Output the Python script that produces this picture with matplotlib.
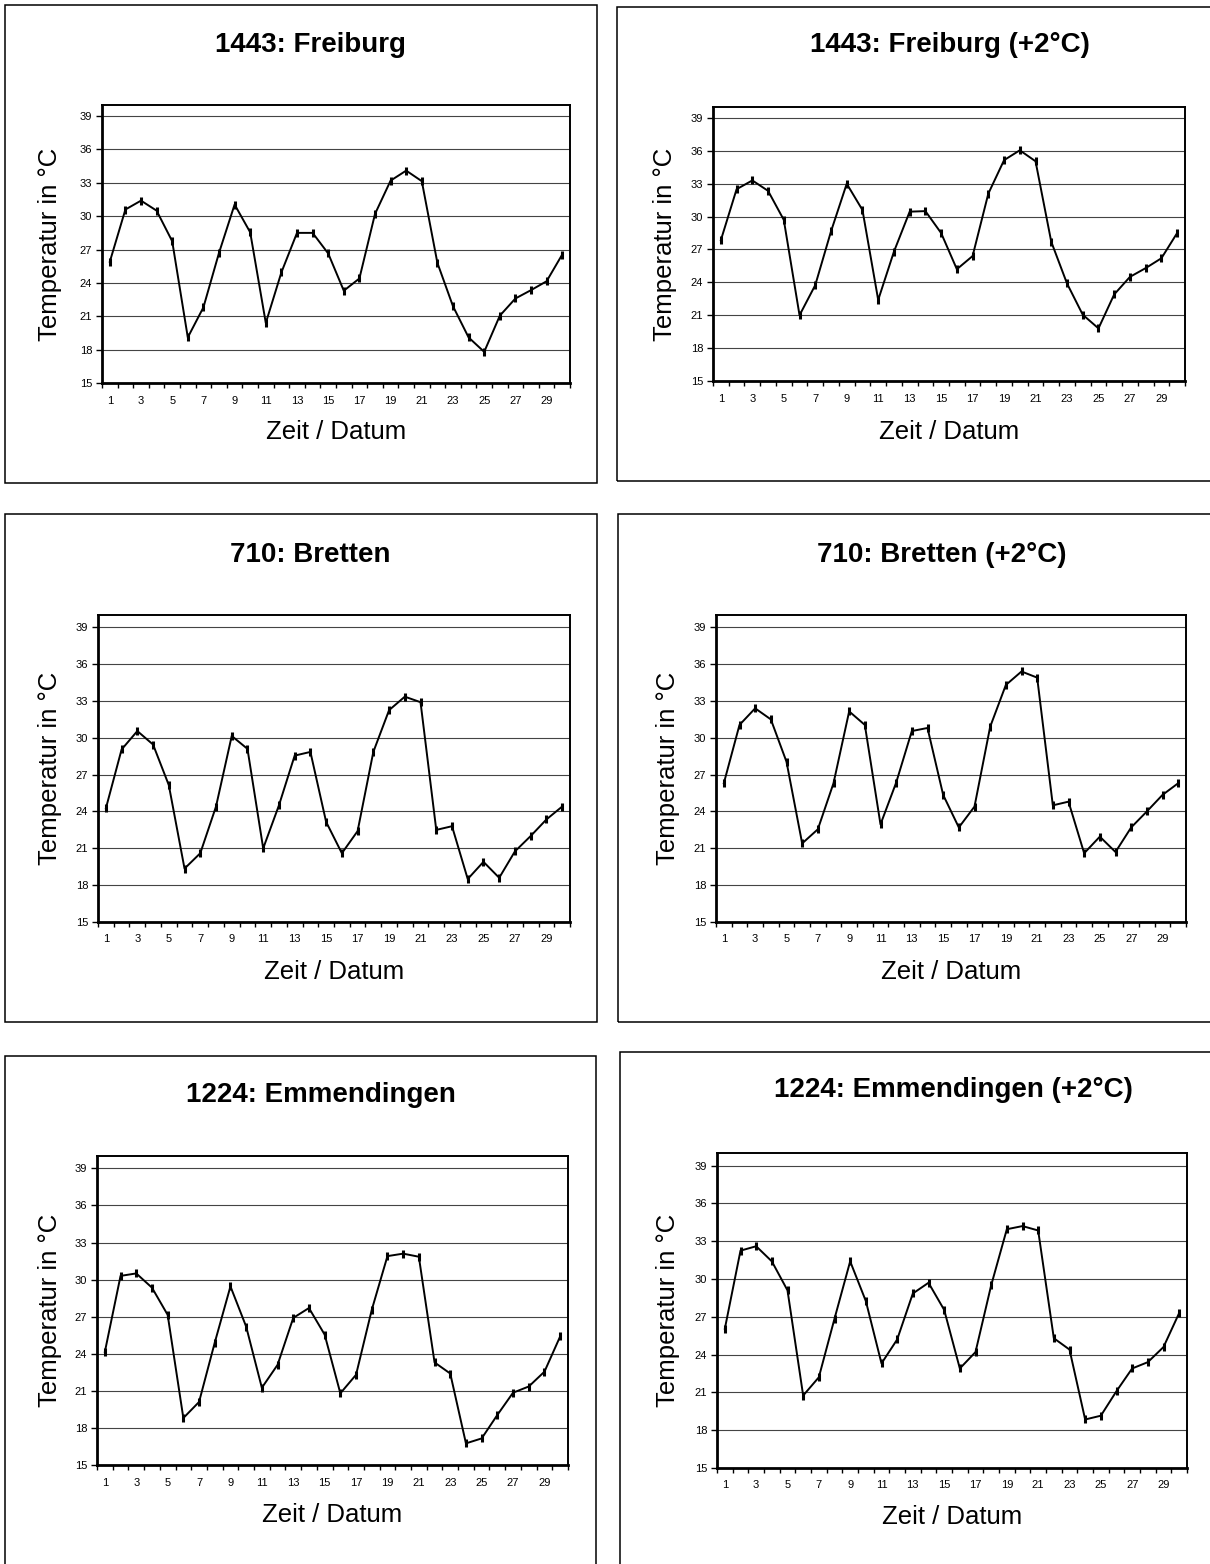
import numpy as np
import matplotlib.pyplot as plt
from matplotlib.patches import Rectangle
from matplotlib.ticker import FixedLocator, NullFormatter

plt.rcParams['font.family'] = ['Liberation Sans', 'DejaVu Sans']

# Daten: Tageshoechsttemperaturen (Tag 1..30)
tage = list(range(1, 31))

freiburg = [25.9, 30.6, 31.4, 30.5, 27.75, 19.1, 21.8, 26.7, 31.05, 28.55,
            20.4, 24.95, 28.5, 28.5, 26.65, 23.3, 24.4, 30.2, 33.2, 34.1,
            33.15, 25.8, 21.9, 19.1, 17.8, 21.05, 22.6, 23.35, 24.15, 26.55]
freiburg_2 = [27.85, 32.5, 33.3, 32.35, 29.7, 21.0, 23.75, 28.65, 33.0, 30.6,
              22.4, 26.8, 30.45, 30.5, 28.5, 25.2, 26.4, 32.1, 35.15, 36.05,
              35.05, 27.7, 23.9, 21.05, 19.8, 22.9, 24.5, 25.3, 26.2, 28.5]
bretten = [24.25, 29.05, 30.55, 29.45, 26.15, 19.35, 20.6, 24.4, 30.15, 29.1,
           21.0, 24.5, 28.55, 28.85, 23.15, 20.6, 22.4, 28.85, 32.25, 33.35,
           32.9, 22.5, 22.8, 18.5, 19.9, 18.6, 20.75, 22.0, 23.35, 24.4]
bretten_2 = [26.3, 31.05, 32.4, 31.5, 28.05, 21.4, 22.55, 26.3, 32.15, 31.05,
             22.95, 26.35, 30.55, 30.8, 25.35, 22.7, 24.4, 30.9, 34.3, 35.4,
             34.9, 24.5, 24.8, 20.6, 21.95, 20.7, 22.7, 24.0, 25.35, 26.3]
emmendingen = [24.15, 30.3, 30.5, 29.35, 27.15, 18.8, 20.1, 24.9, 29.45, 26.2,
               21.25, 23.1, 26.9, 27.7, 25.55, 20.8, 22.3, 27.55, 31.9, 32.1,
               31.85, 23.3, 22.4, 16.75, 17.15, 19.05, 20.85, 21.35, 22.55, 25.4]
emmendingen_2 = [26.05, 32.25, 32.6, 31.4, 29.1, 20.75, 22.2, 26.85, 31.4, 28.25,
                 23.3, 25.2, 28.85, 29.7, 27.55, 22.9, 24.2, 29.5, 33.95, 34.2,
                 33.85, 25.3, 24.4, 18.85, 19.15, 21.1, 22.9, 23.4, 24.6, 27.3]

titel = ['1443: Freiburg', '1443: Freiburg (+2°C)',
         '710: Bretten', '710: Bretten (+2°C)',
         '1224: Emmendingen', '1224: Emmendingen (+2°C)']
reihen = [freiburg, freiburg_2, bretten, bretten_2, emmendingen, emmendingen_2]

y_ticks = [15, 18, 21, 24, 27, 30, 33, 36, 39]
x_labels = [1, 3, 5, 7, 9, 11, 13, 15, 17, 19, 21, 23, 25, 27, 29]

# Layout in Pixeln: Achsen (l, o, r, u), Rahmen (l, o, r, u), Titel (x, y)
W, H = 1210, 1564
achsen = [(102, 105, 570, 383), (713, 107, 1185, 381),
          (98, 615, 570, 922), (716, 615, 1186, 922),
          (97, 1156, 568, 1465), (717, 1153, 1187, 1468)]
rahmen = [(5, 5, 597, 483), (617, 7, 1215, 481),
          (5, 514, 597, 1022), (618, 514, 1215, 1022),
          (5, 1056, 596, 1575), (620, 1052, 1215, 1575)]
titel_pos = [(310, 45), (950, 45), (310, 555), (942, 555), (321, 1095), (953, 1090)]
ylabel_x = [50, 665, 50, 668, 50, 668]
xlabel_y = [432, 432, 972, 972, 1515, 1517]

fig = plt.figure(figsize=(W / 100, H / 100), dpi=100)
fig.patch.set_facecolor('white')

for i in range(6):
    l, o, r, u = rahmen[i]
    fig.patches.append(Rectangle((l / W, 1 - u / H), (r - l) / W, (u - o) / H,
                                 transform=fig.transFigure, fill=False,
                                 edgecolor='black', linewidth=1.1))

    l, o, r, u = achsen[i]
    ax = fig.add_axes([l / W, 1 - u / H, (r - l) / W, (u - o) / H])
    ax.plot(tage, reihen[i], color='black', linewidth=1.4,
            marker='|', markersize=6, markeredgewidth=2.2, zorder=3)

    ax.set_xlim(0.5, 30.5)
    ax.set_ylim(15, 40)
    ax.set_yticks(y_ticks)
    ax.yaxis.grid(True, color='#444444', linewidth=0.8)
    ax.set_axisbelow(True)

    ax.xaxis.set_major_locator(FixedLocator(np.arange(0.5, 31, 1.0)))
    ax.xaxis.set_major_formatter(NullFormatter())
    ax.xaxis.set_minor_locator(FixedLocator(x_labels))
    ax.set_xticklabels([str(v) for v in x_labels], minor=True)
    ax.tick_params(axis='x', which='major', direction='out', length=3.5, width=1)
    ax.tick_params(axis='x', which='minor', length=0, pad=9, labelsize=8)
    ax.tick_params(axis='y', direction='out', length=4, width=1, labelsize=8, pad=3)

    for s in ax.spines.values():
        s.set_linewidth(1.4)
    ax.spines['left'].set_linewidth(2)
    ax.spines['bottom'].set_linewidth(2)

    hoehe = u - o
    breite = r - l
    ax.set_ylabel('Temperatur in °C', fontsize=18.5)
    ax.yaxis.set_label_coords(-(l - ylabel_x[i]) / breite, 0.5)
    ax.yaxis.label.set_va('center')
    ax.set_xlabel('Zeit / Datum', fontsize=18.5)
    ax.xaxis.set_label_coords(0.5, -(xlabel_y[i] - u) / hoehe)
    ax.xaxis.label.set_va('center')

    tx, ty = titel_pos[i]
    fig.text(tx / W, 1 - ty / H, titel[i], ha='center', va='center',
             fontsize=20, fontweight='bold')

fig.savefig('out.png', dpi=100)
